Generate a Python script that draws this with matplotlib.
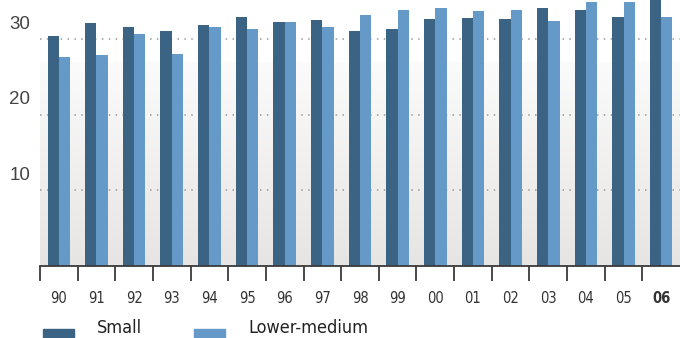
import matplotlib.pyplot as plt
import numpy as np
from matplotlib.patches import Rectangle
from matplotlib.colors import LinearSegmentedColormap

# Share of firms by size class, 1990-2006
years = ["90", "91", "92", "93", "94", "95", "96", "97", "98",
         "99", "00", "01", "02", "03", "04", "05", "06"]
small = [30.4, 32.2, 31.7, 31.1, 31.9, 33.0, 32.3, 32.6, 31.1,
         31.4, 32.7, 32.8, 32.7, 34.2, 33.9, 33.0, 35.5]
lower_medium = [27.7, 27.9, 30.7, 28.1, 31.7, 31.4, 32.3, 31.7, 33.2,
                33.9, 34.2, 33.8, 33.9, 32.5, 35.0, 35.0, 33.0]
yticks = [10, 20, 30]

DARK = "#3b6484"
LIGHT = "#6499c8"

fig = plt.figure(figsize=(6.8, 3.38), dpi=100)
ax = fig.add_axes([40 / 680, 72 / 338, 640 / 680, 266 / 338])
ymax = 35.23
ax.set_ylim(0, ymax)
ax.set_xlim(-0.5, len(years) - 0.5)

# soft grey gradient behind the lower part of the plot
grad = np.linspace(0, 1, 256).reshape(-1, 1)
cmap = LinearSegmentedColormap.from_list("bg", ["#e7e5e3", "#fbfbfb"])
ax.imshow(grad, aspect="auto", cmap=cmap, origin="lower",
          extent=(-0.5, len(years) - 0.5, 0, 27.0), zorder=0)

ax.hlines(yticks, -0.5, len(years) - 0.5, colors="#9a9a9a",
          linestyles=(0, (1, 3.5)), linewidth=1.1, zorder=1)

x = np.arange(len(years))
w = 0.3
ax.bar(x - w / 2, small, w, color=DARK, zorder=2)
ax.bar(x + w / 2, lower_medium, w, color=LIGHT, zorder=2)

for s in ["top", "right", "left"]:
    ax.spines[s].set_visible(False)
ax.spines["bottom"].set_color("#3a3a3a")
ax.spines["bottom"].set_linewidth(1.3)
ax.spines["bottom"].set_zorder(3)
ax.set_yticks([])

ax.set_xticks(np.arange(-0.5, len(years) - 1, 1.0))
ax.set_xticklabels([])
ax.tick_params(axis="x", which="major", length=11, width=1.3,
               color="#3a3a3a", direction="out")
ax.set_xticks(x, minor=True)
ax.set_xticklabels(years, minor=True, fontsize=10.5, color="#333333",
                   fontstretch="condensed")
ax.tick_params(axis="x", which="minor", length=0, pad=18)
ax.get_xticklabels(minor=True)[-1].set_fontweight("bold")

# value labels sit just above their gridlines, left of the plot
for v in yticks:
    ax.text(-0.048, v + 0.9, str(v), transform=ax.get_yaxis_transform(),
            ha="left", va="bottom", fontsize=13.5, color="#444444",
            family=["Liberation Sans", "DejaVu Sans"])

# legend
for x0, col, label, tx in [(43, DARK, "Small", 97), (194, LIGHT, "Lower-medium", 248)]:
    fig.add_artist(Rectangle((x0 / 680, 0), 31 / 680, 9 / 338,
                             transform=fig.transFigure, color=col))
    fig.text(tx / 680, 1 / 338, label, fontsize=13, color="#222222",
             fontstretch="condensed", ha="left", va="bottom")

fig.savefig("out.png", dpi=100)
